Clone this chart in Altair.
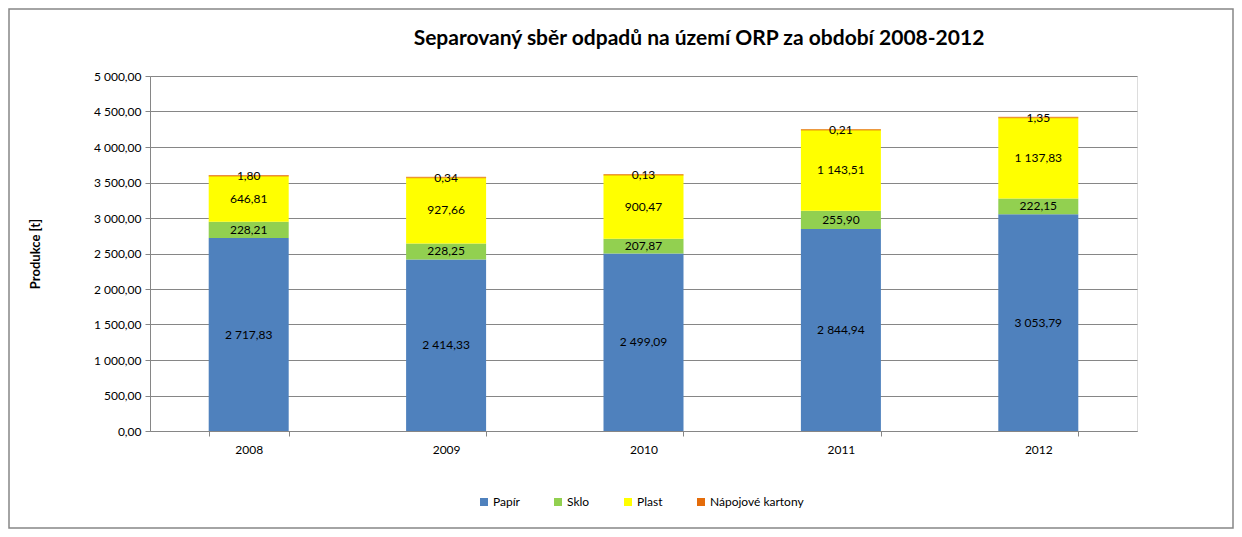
import altair as alt
import pandas as pd

years = ["2008", "2009", "2010", "2011", "2012"]
categories = ["Papír", "Sklo", "Plast", "Nápojové kartony"]
colors = ["#4F81BD", "#92D050", "#FFFF00", "#E46C0A"]
papir = [2717.83, 2414.33, 2499.09, 2844.94, 3053.79]
sklo = [228.21, 228.25, 207.87, 255.90, 222.15]
plast = [646.81, 927.66, 900.47, 1143.51, 1137.83]
kartony = [1.80, 0.34, 0.13, 0.21, 1.35]
y_ticks = [0, 500, 1000, 1500, 2000, 2500, 3000, 3500, 4000, 4500, 5000]
title_text = "Separovaný sběr odpadů na území ORP za období 2008-2012"

series = [papir, sklo, plast, kartony]
rows = []
for ci, (cat, vals) in enumerate(zip(categories, series)):
    for yr, v in zip(years, vals):
        rows.append({"year": yr, "cat": cat, "idx": ci, "value": v})
df = pd.DataFrame(rows)

FONT = "Lato"
GRAY = "#868686"
CZ = "replace(replace(format({v}, ',.2f'), regexp(',', 'g'), ' '), '.', ',')"

W, H = 987, 355
PL, PT, PR, PB = 142, 68, 97, 98

base = alt.Chart(df).transform_stack(
    stack="value", groupby=["year"], sort=[alt.SortField("idx", order="ascending")], as_=["y0", "y1"]
).transform_calculate(
    mid="(datum.y0 + datum.y1) / 2",
    label=CZ.format(v="datum.value"),
)

yscale = alt.Scale(domain=[0, 5000], nice=False)
y_axis = alt.Axis(values=y_ticks, tickCount=11, labelOverlap=False,
                  labelExpr=CZ.format(v="datum.value"),
                  grid=True, gridColor=GRAY, domainColor=GRAY, tickColor=GRAY,
                  tickSize=5, labelFontSize=12, labelPadding=4, labelColor="black",
                  labelFont=FONT, titleFont=FONT, titleFontSize=13, titleFontWeight="bold",
                  titleColor="black", titleAngle=270, titleX=-115, titleY=H / 2,
                  titleAlign="center", titleBaseline="middle")
x_axis = alt.Axis(labelAngle=0, tickBand="extent", domainColor=GRAY, tickColor=GRAY,
                  tickSize=5, labelFontSize=12, labelPadding=8, labelColor="black",
                  labelFont=FONT, grid=False)
xscale = alt.Scale(paddingInner=0.595, paddingOuter=0.2975)


def xe():
    return alt.X("year:N", sort=years, title=None, scale=xscale, axis=x_axis)


def ye(field):
    return alt.Y(field, title="Produkce [t]", scale=yscale, axis=y_axis)


bars = base.mark_bar(size=80).encode(
    x=xe(),
    y=ye("y0:Q"),
    y2="y1:Q",
    color=alt.Color("cat:N", sort=categories,
                    scale=alt.Scale(domain=categories, range=colors),
                    legend=alt.Legend(title=None, orient="none", direction="horizontal",
                                      legendX=328, legendY=420, symbolType="square",
                                      symbolSize=64, symbolStrokeWidth=0, labelFont=FONT,
                                      labelFontSize=12, labelColor="black", columnPadding=32,
                                      labelOffset=3)),
    order=alt.Order("idx:Q"),
)

karton_edge = base.transform_filter(alt.datum.cat == "Nápojové kartony").mark_tick(
    color="#E46C0A", thickness=1.5, size=80
).encode(x=xe(), y=ye("y1:Q"))

labels = base.mark_text(font=FONT, fontSize=12, color="black", baseline="middle").encode(
    x=xe(),
    y=ye("mid:Q"),
    text="label:N",
)

single = alt.Chart(pd.DataFrame({"t": [title_text]}))

title = single.mark_text(font=FONT, fontSize=21, fontWeight="bold", color="black",
                         align="center", baseline="alphabetic").encode(
    x=alt.value(549), y=alt.value(-31), text="t:N"
)

border = single.mark_rect(fill=None, stroke=GRAY, strokeWidth=1.5).encode(
    x=alt.value(-PL + 1), x2=alt.value(W + PR - 1),
    y=alt.value(-PT + 1), y2=alt.value(H + PB - 1),
)

chart = alt.layer(bars, karton_edge, labels, title, border).properties(
    width=W, height=H,
    autosize=alt.AutoSizeParams(type="none"),
    padding={"left": PL, "top": PT, "right": PR, "bottom": PB},
).configure_view(strokeWidth=0, stroke="transparent").configure(background="white")

chart.save("out.html", embed_options={"renderer": "svg", "actions": False})
